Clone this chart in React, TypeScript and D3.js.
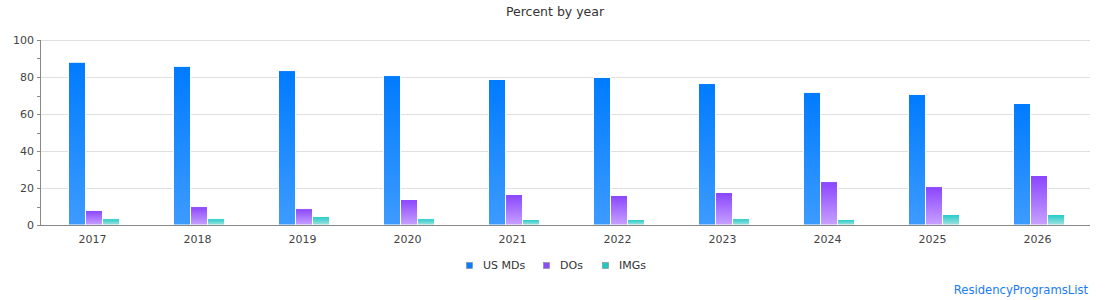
import { useMemo } from "react";
import * as d3 from "d3";

// data
const years = ["2017", "2018", "2019", "2020", "2021", "2022", "2023", "2024", "2025", "2026"];
const seriesNames = ["US MDs", "DOs", "IMGs"];
const usMDs = [87.7, 85.5, 83.2, 80.5, 78.4, 79.5, 76.2, 71.4, 70.3, 65.4];
const dos = [7.6, 9.7, 8.6, 13.5, 16.2, 15.7, 17.3, 23.2, 20.5, 26.5];
const imgs = [3.2, 3.2, 4.3, 3.2, 2.7, 2.7, 3.2, 2.7, 5.4, 5.4];
const yTicks = [0, 20, 40, 60, 80, 100];
const yMinorTicks = [10, 30, 50, 70, 90];

const colors = [
  { top: "#007bff", bottom: "#3d9bff", swatch: "#0a7cff" },
  { top: "#8a44ff", bottom: "#c7a1ff", swatch: "#8a4cfc" },
  { top: "#1ecbc8", bottom: "#a2e2df", swatch: "#20c8c4" },
];

const W = 1110;
const H = 300;
const margin = { top: 40, right: 20, bottom: 75, left: 40 };
const font = "DejaVu Sans, Verdana, sans-serif";

export default function App() {
  const values = [usMDs, dos, imgs];
  const innerW = W - margin.left - margin.right;
  const innerH = H - margin.top - margin.bottom;

  const x0 = useMemo(() => d3.scaleBand<string>().domain(years).range([0, innerW]), [innerW]);
  const x1 = useMemo(() => d3.scaleBand<string>().domain(seriesNames).range([29, 80]), []);
  const y = useMemo(() => d3.scaleLinear().domain([0, 100]).range([innerH, 0]), [innerH]);

  return (
    <div style={{ position: "absolute", left: 0, top: 0 }}>
      <svg width={W} height={H} style={{ display: "block", background: "#fff" }}>
        <defs>
          {colors.map((c, i) => (
            <linearGradient key={i} id={`grad${i}`} x1="0" y1="0" x2="0" y2="1">
              <stop offset="0%" stopColor={c.top} />
              <stop offset="100%" stopColor={c.bottom} />
            </linearGradient>
          ))}
        </defs>

        <text x={W / 2} y={16} textAnchor="middle" fontFamily={font} fontSize={12.5} fill="#333">
          Percent by year
        </text>

        <g transform={`translate(${margin.left},${margin.top})`}>
          {/* grid */}
          {yTicks.filter((t) => t > 0).map((t) => (
            <line key={t} x1={0} x2={innerW} y1={Math.round(y(t)) + 0.5} y2={Math.round(y(t)) + 0.5} stroke="#e0e0e0" />
          ))}

          {/* bars */}
          {years.map((yr, i) => (
            <g key={yr} transform={`translate(${x0(yr)},0)`}>
              {seriesNames.map((s, k) => {
                const v = values[k][i];
                const top = y(v);
                return (
                  <rect
                    key={s}
                    x={(x1(s) ?? 0) - 0.5}
                    y={top - 0.5}
                    width={x1.bandwidth()}
                    height={innerH - top + 0.5}
                    fill={`url(#grad${k})`}
                    stroke="#fff"
                    strokeWidth={1}
                  />
                );
              })}
            </g>
          ))}

          {/* axes */}
          <line x1={0.5} x2={0.5} y1={0} y2={innerH} stroke="#888" />
          <line x1={0} x2={innerW} y1={innerH + 0.5} y2={innerH + 0.5} stroke="#888" />
          {yTicks.concat(yMinorTicks).map((t) => (
            <line key={t} x1={-3} x2={0} y1={Math.round(y(t)) + 0.5} y2={Math.round(y(t)) + 0.5} stroke="#888" />
          ))}
          {yTicks.map((t) => (
            <text key={t} x={-6} y={y(t)} dy="0.35em" textAnchor="end" fontFamily={font} fontSize={11} fill="#444">
              {t}
            </text>
          ))}
          {years.map((yr) => (
            <text
              key={yr}
              x={(x0(yr) ?? 0) + x0.bandwidth() / 2}
              y={innerH + 18}
              textAnchor="middle"
              fontFamily={font}
              fontSize={11}
              fill="#444"
            >
              {yr}
            </text>
          ))}
        </g>

        {/* legend */}
        <g fontFamily={font} fontSize={11} fill="#333">
          {seriesNames.map((s, k) => {
            const lx = [466, 543, 602][k];
            return (
              <g key={s}>
                <rect x={lx + 0.5} y={262.5} width={6} height={6} fill={colors[k].swatch} stroke="#888" strokeWidth={0.6} />
                <text x={lx + 17} y={269}>{s}</text>
              </g>
            );
          })}
        </g>

        <text x={1088} y={294} textAnchor="end" fontFamily={font} fontSize={11.6} fill="#1a7cf0">
          ResidencyProgramsList
        </text>
      </svg>
    </div>
  );
}
